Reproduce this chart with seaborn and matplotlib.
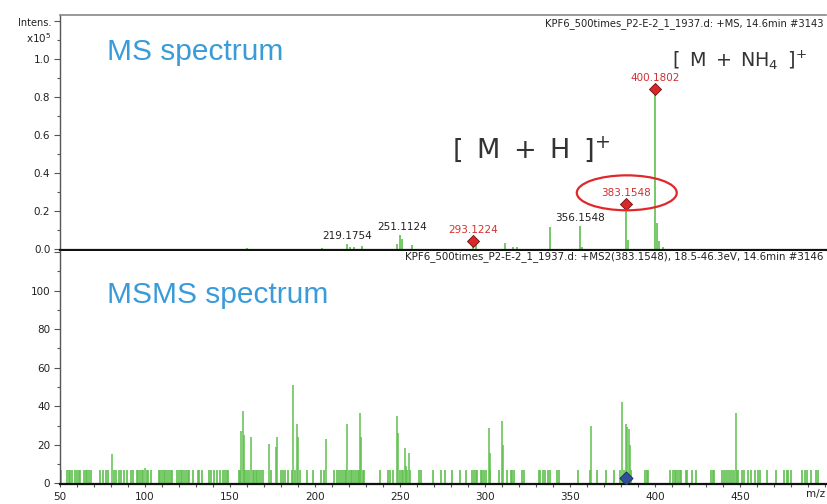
import numpy as np
import pandas as pd
import matplotlib
matplotlib.use("Agg")
import matplotlib.pyplot as plt
import seaborn as sns
from matplotlib.patches import Ellipse
from matplotlib.ticker import MultipleLocator

# ---------------- data ----------------
# MS spectrum (intensity x 1e5)
ms_mz = [159.8, 204.0, 218.6, 220.6, 222.9, 227.5, 248.0, 250.2, 251.1, 256.9,
         293.1, 294.6, 311.8, 316.7, 318.6, 338.5, 356.15, 357.3, 383.15, 384.0,
         400.18, 401.2, 402.2, 404.7]
ms_int = [0.006, 0.007, 0.026, 0.012, 0.012, 0.015, 0.026, 0.074, 0.055, 0.020,
          0.040, 0.058, 0.030, 0.010, 0.010, 0.115, 0.120, 0.010, 0.235, 0.050,
          0.840, 0.135, 0.040, 0.010]

# labelled peaks without marker
lab_mz = [219.1754, 251.1124, 356.1548]
lab_int = [0.026, 0.074, 0.120]
# labelled peaks with red diamond marker
mark_mz = [293.1224, 383.1548, 400.1802]
mark_int = [0.040, 0.235, 0.840]

# MSMS spectrum: low-level noise sticks (~7)
noise_mz = [50.5, 54, 55, 56, 57, 59, 60, 61, 62, 64, 65, 66, 67, 68, 73.5, 75, 77, 78,
            81.5, 83, 84.5, 86, 87.5, 89.5, 91.5, 93, 95, 96, 97, 98, 99, 101, 102, 103.5,
            108, 109, 110, 111, 112, 113, 114, 115, 116, 119, 120, 121, 122, 123, 124, 125,
            126, 128, 131, 132, 133.5, 137.5, 139, 140.5, 142.5, 144, 146, 147, 148, 149,
            155, 156, 159, 160, 161, 163.5, 164, 165, 166, 167, 168, 169.5, 174, 180, 181,
            182.5, 184, 186.5, 188.5, 191, 195, 199, 203.5, 205, 211, 213, 214, 215.5, 216.5,
            217.5, 218, 220, 221, 222, 223, 224, 225, 226, 228, 229, 238, 243, 244, 246, 250,
            251, 252, 254, 256, 261, 262.5, 269.5, 274, 276.5, 280.5, 285, 289, 292.5, 293.5,
            294.5, 295.5, 297.5, 298.5, 299.5, 300.5, 303, 308, 313, 315, 316, 317, 322, 323,
            331.5, 332.5, 334, 335, 337, 338.5, 342.5, 343.5, 354.5, 362, 366, 371, 376, 379.5,
            381.5, 386, 394, 395, 396, 409, 410.5, 411.5, 412.5, 413.5, 414.5, 415.5, 418, 419,
            422, 424, 433, 434, 435, 439.5, 440.5, 441.5, 443, 444, 445.5, 446.5, 448, 449, 451,
            452.5, 455, 456.5, 459, 460.5, 461.5, 466, 471, 476, 477.5, 478.5, 480, 486.5, 488,
            489.5, 491.5, 494.5, 496]
noise_int = [7] * len(noise_mz)
# MSMS fragment peaks
frag_mz = [80.4, 100.0, 156.5, 157.8, 158.5, 162.4, 172.7, 177.0, 177.6, 187.3, 189.2,
           190.0, 206.3, 219.0, 226.7, 227.3, 248.2, 248.6, 252.7, 253.4, 255.5, 302.5,
           303.1, 310.0, 310.5, 362.4, 380.8, 382.7, 383.7, 384.7, 385.2, 447.6]
frag_int = [15, 8, 27, 37.8, 25, 24, 20.5, 19, 24, 50.8, 30.7, 24, 23, 31, 36.6, 24, 34.9,
            26, 18.5, 9, 16, 28.5, 16, 32.6, 20, 29.7, 42.3, 30.9, 29, 28, 20, 36.6]
precursor_mz = [383.1548]
precursor_int = [3]

ms_ticks = [0.0, 0.2, 0.4, 0.6, 0.8, 1.0, 1.2]
ms_ticklabels = ["0.0", "0.2", "0.4", "0.6", "0.8", "1.0", ""]
msms_ticks = [0, 20, 40, 60, 80, 100, 120]
msms_ticklabels = ["0", "20", "40", "60", "80", "100", ""]
x_ticks = [50, 100, 150, 200, 250, 300, 350, 400, 450, 500]
x_ticklabels = ["50", "100", "150", "200", "250", "300", "350", "400", "450", ""]

header_ms = "KPF6_500times_P2-E-2_1_1937.d: +MS, 14.6min #3143"
header_msms = "KPF6_500times_P2-E-2_1_1937.d: +MS2(383.1548), 18.5-46.3eV, 14.6min #3146"

# ---------------- style ----------------
sns.set_style("ticks")
plt.rcParams["font.family"] = ["DejaVu Sans"]

GREEN = "#5fc04e"
RED_TXT = "#d3302f"
BLUE = "#3a9bd9"
DARK = "#333333"
AX = "#555555"
ESP = "\u2002"  # en space

fig = plt.figure(figsize=(8.28, 5.04), dpi=100)
ax1 = fig.add_axes([0.0725, 0.504, 0.9251, 0.466])
ax2 = fig.add_axes([0.0725, 0.0397, 0.9251, 0.4623])

# ---- MS panel ----
ax1.vlines(ms_mz, 0, ms_int, color=GREEN, lw=1.2, zorder=2)
mk = pd.DataFrame({"mz": mark_mz, "int": mark_int})
sns.scatterplot(data=mk, x="mz", y="int", marker="D", s=38, color="#d8282a",
                edgecolor="#6e1010", linewidth=0.6, ax=ax1, zorder=5, legend=False)
for m, h in zip(lab_mz, lab_int):
    ax1.annotate(f"{m:.4f}", (m, h), xytext=(0, 2), textcoords="offset points",
                 ha="center", va="bottom", fontsize=7.5, color="#222222")
for m, h in zip(mark_mz, mark_int):
    ax1.annotate(f"{m:.4f}", (m, h), xytext=(0, 4.5), textcoords="offset points",
                 ha="center", va="bottom", fontsize=7.5, color=RED_TXT)
ax1.add_patch(Ellipse((383.4, 0.296), width=58.8, height=0.184, fill=False,
                      edgecolor="#e0282a", lw=1.6, zorder=6))

ax1.set_xlim(50, 500.6)
ax1.set_ylim(-0.005, 1.2316)
ax1.set_yticks(ms_ticks)
ax1.set_yticklabels(ms_ticklabels)
ax1.yaxis.set_minor_locator(MultipleLocator(0.1))
ax1.tick_params(axis="x", which="both", bottom=False, labelbottom=False)
ax1.set_xlabel("")
ax1.set_ylabel("")

# ---- MSMS panel ----
ax2.vlines(noise_mz, 0, noise_int, color=GREEN, lw=1.2, zorder=2)
ax2.vlines(frag_mz, 0, frag_int, color=GREEN, lw=1.1, zorder=2)
pr = pd.DataFrame({"mz": precursor_mz, "int": precursor_int})
sns.scatterplot(data=pr, x="mz", y="int", marker="D", s=45, color="#2e4f9e",
                edgecolor="#1a2a5a", linewidth=0.6, ax=ax2, zorder=5, legend=False)
ax2.set_xlim(50, 500.6)
ax2.set_ylim(-0.3, 120.5)
ax2.set_yticks(msms_ticks)
ax2.set_yticklabels(msms_ticklabels)
ax2.yaxis.set_minor_locator(MultipleLocator(10))
ax2.set_xticks(x_ticks)
ax2.set_xticklabels(x_ticklabels)
ax2.xaxis.set_minor_locator(MultipleLocator(10))
ax2.set_xlabel("")
ax2.set_ylabel("")

for ax in (ax1, ax2):
    ax.set_facecolor("white")
    ax.spines["right"].set_visible(False)
    ax.spines["left"].set_color(AX)
    ax.spines["left"].set_linewidth(1.0)
    ax.spines["bottom"].set_color("#111111")
    ax.spines["bottom"].set_linewidth(1.6)
    ax.tick_params(axis="y", which="major", length=4.5, width=0.8, color=AX,
                   labelsize=7.5, labelcolor="#222222", pad=2.5)
    ax.tick_params(axis="y", which="minor", length=2.3, width=0.8, color=AX)
ax1.spines["top"].set_color("#888888")
ax1.spines["top"].set_linewidth(1.2)
ax2.spines["top"].set_visible(False)
ax2.tick_params(axis="x", which="both", length=2.5, width=0.8, color=AX,
                labelsize=7.5, labelcolor="#222222", pad=3)

# ---- texts ----
fig.text(824 / 828, 1 - 24 / 504, header_ms, ha="right", va="center",
         fontsize=7.2, color="#222222")
fig.text(823 / 828, 1 - 257 / 504, header_msms, ha="right", va="center",
         fontsize=7.4, color="#222222")
fig.text(107 / 828, 1 - 52 / 504, "MS spectrum", ha="left", va="center",
         fontsize=21.5, color=BLUE, family="Liberation Sans")
fig.text(107 / 828, 1 - 295 / 504, "MSMS spectrum", ha="left", va="center",
         fontsize=21.5, color=BLUE, family="Liberation Sans")
fig.text(672 / 828, 1 - 60 / 504,
         "[" + ESP + "M" + ESP + "+" + ESP + r"NH$_\mathregular{4}$" + ESP + r"]$^\mathregular{+}$",
         ha="left", va="center", fontsize=13.8, color=DARK)
fig.text(452 / 828, 1 - 149 / 504,
         "[" + ESP + "M" + ESP + "+" + ESP + "H" + ESP + r"]$^\mathregular{+}$",
         ha="left", va="center", fontsize=19.5, color=DARK)
fig.text(51 / 828, 1 - 23 / 504, "Intens.", ha="right", va="center",
         fontsize=7, color="#222222")
fig.text(51 / 828, 1 - 38 / 504, r"x10$^\mathregular{5}$", ha="right", va="center",
         fontsize=7.5, color="#222222")
fig.text(825 / 828, 1 - 494 / 504, "m/z", ha="right", va="center",
         fontsize=7.5, color="#222222")

fig.savefig("out.png", dpi=100)
